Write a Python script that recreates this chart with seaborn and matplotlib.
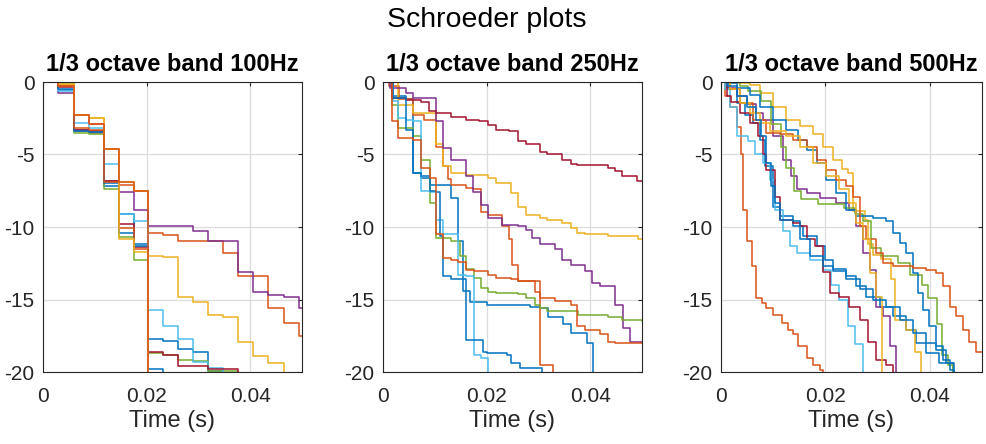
import numpy as np
import pandas as pd
import matplotlib
matplotlib.use("Agg")
import matplotlib.pyplot as plt
import seaborn as sns

# MATLAB default colour order
blue = "#0072BD"
orange = "#D95319"
yellow = "#EDB120"
purple = "#7E2F8E"
green = "#77AC30"
lightblue = "#4DBEEE"
darkred = "#A2142F"

# ---- 100 Hz band: all curves share the same step times (ms) ----
t100 = [0, 2.8, 5.9, 8.8, 11.7, 14.6, 17.5, 20.3, 23.2, 26.1, 29.0, 31.9,
        34.8, 37.7, 40.6, 43.5, 46.5, 49.5, 50.0]
b100_purple = [0, -0.76, -3.4, -3.5, -6.8, -7.6, -8.8, -9.9, -9.9, -9.95, -10.3,
               -11.0, -11.0, -13.1, -14.5, -14.7, -14.8, -15.6, -15.6]
b100_orange = [0, -0.3, -2.3, -2.9, -4.6, -7.1, -7.5, -10.4, -10.55, -11.0, -11.0,
               -11.0, -11.8, -13.4, -13.4, -15.6, -16.6, -17.5, -17.5]
b100_yellow = [0, -0.2, -2.3, -2.5, -4.6, -6.9, -7.5, -12.0, -12.05, -14.8, -15.2,
               -16.1, -16.2, -17.9, -18.9, -19.4, -25]
b100_lightblue = [0, -0.6, -2.8, -3.2, -5.65, -9.1, -9.6, -15.7, -16.8, -17.7, -19.3, -19.7, -25]
b100_blue = [0, -0.57, -3.3, -3.4, -7.2, -9.1, -11.2, -17.7, -17.85, -18.4, -18.6, -19.9, -25]
b100_green = [0, -0.1, -3.5, -3.6, -7.4, -10.7, -12.25, -18.7, -18.8, -19.2, -19.25, -19.9, -19.9, -25]
b100_darkred = [0, -0.35, -3.3, -3.4, -6.8, -9.8, -11.4, -18.6, -18.8, -19.6, -19.6, -19.8, -19.8, -25]
b100_blue2 = [0, -0.45, -3.35, -3.45, -7.0, -10.4, -11.3, -19.8, -25]
b100_orange2 = [0, -0.3, -3.2, -3.3, -6.9, -10.1, -11.5, -25]
b100_yellow2 = [0, -0.15, -2.3, -2.5, -4.6, -10.8, -11.7, -25]
b100_orange3 = [0, -0.25, -2.3, -2.9, -4.6, -6.9, -7.5, -25]

# ---- 250 Hz band (ms, dB) ----
t250_darkred = [0, 1.7, 4.5, 7.4, 8.9, 10.3, 13.2, 16.0, 18.6, 20.2, 21.8, 24.4, 26.0,
                27.6, 30.4, 31.7, 34.6, 36.2, 37.4, 43.5, 44.8, 46.1, 49.0, 50]
b250_darkred = [0, -1.1, -1.25, -1.4, -2.0, -2.15, -2.4, -2.6, -2.7, -3.0, -3.3, -3.4, -4.1,
                -4.3, -4.8, -5.0, -5.35, -5.65, -5.75, -5.9, -6.15, -6.45, -6.8, -6.8]
t250_yellow = [0, 2.9, 5.8, 10.3, 11.6, 13.2, 16.0, 20.2, 21.8, 24.7, 26.0, 27.6, 30.4,
               31.7, 34.6, 36.2, 37.4, 39.0, 43.5, 49.3, 50]
b250_yellow = [0, -1.6, -2.15, -4.3, -5.8, -6.3, -6.4, -6.6, -7.0, -7.65, -8.6, -9.2, -9.4,
               -9.55, -9.7, -10.1, -10.4, -10.5, -10.65, -10.8, -10.8]
t250_purple = [0, 1.3, 4.5, 5.8, 10.3, 11.6, 13.2, 16.0, 17.3, 18.9, 20.2, 23.0, 26.0, 27.6,
               28.8, 30.4, 33.3, 34.6, 36.2, 39.0, 40.3, 41.9, 44.8, 46.4, 47.7, 50]
b250_purple = [0, -0.4, -0.75, -1.1, -2.7, -4.55, -5.35, -6.5, -7.6, -8.45, -9.4, -9.85, -9.95,
               -10.2, -10.75, -11.2, -11.55, -12.25, -12.6, -13.05, -13.85, -14.1, -15.35,
               -16.95, -17.9, -18.0]
t250_orange = [0, 1.2, 3.0, 5.8, 8.0, 10.3, 11.6, 12.5, 13.2, 16.0, 17.3, 18.9, 20.2, 23.0,
               24.4, 25.0, 26.0, 30.4, 32.9]
b250_orange = [0, -0.3, -1.2, -2.3, -2.6, -4.5, -5.8, -6.7, -7.1, -7.3, -7.4, -9.0, -9.15,
               -9.9, -10.8, -12.6, -13.75, -19.5, -25]
t250_orange2 = [0, 1.7, 2.9, 5.8, 7.4, 9.0, 10.3, 11.6, 13.2, 14.4, 16.0, 17.6, 20.2, 21.8,
                24.7, 26.0, 29.4, 30.4, 33.3, 36.2, 37.4, 39.0, 41.9, 43.5, 44.8, 50]
b250_orange2 = [0, -2.7, -3.85, -4.0, -5.9, -6.6, -10.5, -12.15, -12.25, -12.4, -12.95, -13.05,
                -13.3, -13.5, -13.6, -13.75, -14.45, -14.9, -15.1, -15.35, -16.85, -17.1,
                -17.4, -17.9, -18.0, -18.0]
t250_green = [0, 1.7, 2.9, 5.8, 7.4, 9.0, 10.3, 13.2, 14.8, 16.1, 17.6, 18.9, 20.2, 21.8,
              26.0, 27.6, 29.4, 30.4, 31.7, 37.7, 43.5, 46.1, 50]
b250_green = [0, -1.56, -3.2, -3.75, -5.35, -8.35, -10.75, -11.0, -12.0, -12.9, -13.5, -14.2,
              -14.45, -14.55, -14.65, -14.9, -15.35, -15.6, -15.8, -16.1, -16.2, -16.4, -16.45]
t250_blue = [0, 1.7, 4.5, 5.8, 7.4, 9.0, 13.2, 14.4, 15.5, 16.8, 20.0, 28.4, 30.3, 31.9,
             34.8, 36.2, 39.4, 40.5]
b250_blue = [0, -1.0, -1.2, -6.3, -6.6, -7.1, -8.0, -10.95, -14.4, -15.2, -15.35, -15.5,
             -15.6, -16.2, -16.7, -17.3, -18.0, -25]
t250_blue2 = [0, 1.9, 4.5, 5.8, 7.4, 9.0, 10.3, 11.0, 11.6, 13.2, 16.1, 19.4, 20.0, 23.9,
              24.8, 26.5, 30.6]
b250_blue2 = [0, -1.1, -3.3, -6.3, -6.5, -7.5, -7.6, -10.65, -13.4, -13.6, -17.8, -18.6,
              -18.7, -18.8, -19.4, -19.7, -25]
t250_lightblue = [0, 1.9, 2.9, 4.5, 5.8, 7.4, 9.0, 10.3, 11.6, 14.4, 16.0, 17.6, 18.9, 20.2]
b250_lightblue = [0, -1.3, -2.5, -2.6, -2.7, -7.5, -7.6, -9.5, -10.5, -13.3, -13.4, -18.8,
                  -19.0, -25]

# ---- 500 Hz band (ms, dB) ----
t500_orange = [0, 0.8, 1.7, 3.0, 3.9, 4.3, 4.9, 5.9, 6.8, 7.8, 8.7, 10.0, 11.6, 12.9, 13.8,
               14.8, 16.4, 17.6, 18.9, 19.5]
b500_orange = [0, -1.0, -1.7, -3.1, -5.0, -8.8, -11.0, -12.7, -14.9, -15.25, -15.6, -16.05,
               -16.6, -17.1, -17.4, -18.2, -19.0, -19.5, -19.85, -25]
t500_lightblue = [0, 0.8, 1.7, 3.0, 5.2, 6.5, 8.1, 9.4, 10.3, 11.9, 13.2, 14.5, 17.0, 19.6,
                  21.1, 22.7, 24.3, 25.6, 27.2]
b500_lightblue = [0, -0.5, -1.7, -3.75, -4.1, -5.0, -5.6, -6.75, -8.8, -10.3, -11.3, -11.8,
                  -12.25, -12.95, -14.0, -15.0, -16.85, -18.1, -25]
t500_darkred = [0, 1.1, 2.0, 3.6, 5.5, 7.1, 8.1, 8.7, 10.3, 11.3, 13.8, 15.1, 16.4, 18.0,
                19.6, 20.8, 22.7, 24.6, 26.6, 28.2, 29.7, 31.7, 32.9]
b500_darkred = [0, -1.0, -1.35, -2.15, -2.8, -3.75, -5.0, -6.05, -7.9, -9.5, -9.7, -9.95,
                -10.85, -11.3, -13.1, -14.55, -14.8, -15.5, -16.4, -17.9, -19.15, -19.5, -25]
t500_blue = [0, 1.4, 3.0, 4.6, 6.2, 7.5, 8.4, 10.0, 11.3, 13.8, 15.7, 18.3, 19.9, 21.5, 24.0,
             25.9, 27.8, 30.4, 32.9, 35.5, 37.4, 39.3, 41.8, 44.4]
b500_blue = [0, -0.5, -1.45, -2.25, -2.8, -4.0, -5.8, -8.6, -9.25, -9.95, -10.6, -11.3, -12.25,
             -13.05, -13.4, -14.1, -14.8, -15.5, -16.15, -17.1, -18.0, -18.7, -19.4, -25]
t500_blue2 = [0, 1.1, 3.0, 5.5, 7.5, 10.0, 12.5, 14.8, 16.4, 18.3, 20.2, 22.1, 24.0, 25.9,
              29.1, 31.7, 32.9, 34.2, 35.5, 36.8, 37.7, 38.7, 39.9, 41.2, 42.5, 43.8, 44.6]
b500_blue2 = [0, -0.1, -0.4, -0.9, -1.7, -2.6, -3.3, -4.0, -4.7, -5.6, -6.75, -7.65, -8.8,
              -9.25, -9.4, -9.6, -10.4, -11.1, -11.8, -13.2, -14.55, -15.7, -16.85, -18.2,
              -19.15, -19.85, -25]
t500_blue3 = [0, 1.1, 3.0, 4.9, 6.8, 7.7, 8.7, 9.6, 10.3, 11.3, 13.8, 15.1, 17.0, 19.6, 21.5,
              24.0, 26.6, 29.1, 31.7, 34.2, 36.8, 39.3, 41.2, 43.1, 44.7]
b500_blue3 = [0, -0.3, -1.0, -1.7, -2.6, -3.75, -5.6, -7.2, -8.35, -9.5, -9.6, -10.85, -12.0,
              -12.7, -12.9, -13.6, -14.3, -15.0, -15.5, -16.4, -17.3, -18.0, -18.45, -19.4, -25]
t500_green = [0, 3.6, 5.1, 7.7, 9.6, 11.5, 12.4, 14.0, 15.3, 18.5, 23.6, 25.6, 27.2, 28.7,
              30.7, 33.9, 36.2, 38.6, 39.7, 41.3, 42.3, 43.5, 44.5]
b500_green = [0, -0.3, -0.6, -1.3, -2.9, -4.5, -5.9, -7.5, -8.1, -8.4, -8.7, -9.1, -9.6,
              -11.45, -12.0, -12.5, -13.3, -14.0, -14.9, -16.7, -18.8, -19.5, -25]
t500_purple = [0, 1.1, 3.0, 4.9, 6.8, 8.1, 10.0, 11.9, 13.5, 14.5, 16.4, 18.9, 22.1, 24.6,
               25.9, 27.2, 28.5, 29.7, 31.0, 32.3, 33.6]
b500_purple = [0, -0.4, -1.0, -1.55, -2.15, -2.6, -3.75, -5.35, -6.5, -7.4, -7.65, -8.0,
               -8.35, -8.8, -9.95, -11.8, -12.95, -15.5, -16.15, -18.2, -25]
t500_yellow = [0, 2.4, 5.5, 7.5, 10.0, 12.5, 15.1, 17.6, 19.6, 21.5, 23.1, 24.3, 25.3, 27.5,
               28.2, 29.1, 30.7, 32.6, 33.3, 35.5, 37.1, 38.4]
b500_yellow = [0, -0.05, -0.2, -0.75, -1.7, -2.6, -3.05, -3.6, -4.45, -5.35, -6.0, -6.3, -8.9,
               -9.5, -11.2, -11.9, -12.2, -13.6, -16.4, -17.1, -18.6, -25]
t500_yellow2 = [0, 1.7, 3.6, 5.5, 7.5, 9.4, 12.5, 15.1, 17.6, 20.2, 22.7, 24.6, 25.9, 27.2,
                28.5, 29.7, 30.8]
b500_yellow2 = [0, -0.5, -1.45, -2.15, -2.8, -3.4, -3.75, -4.45, -5.6, -6.5, -7.4, -8.35, -9.7,
                -10.8, -13.2, -14.8, -25]
t500_orange2 = [0, 1.7, 3.6, 6.2, 8.7, 11.3, 13.8, 16.4, 18.3, 20.2, 22.1, 24.0, 25.3, 26.6,
                27.8, 29.7, 31.0, 32.9, 36.8, 39.3, 41.2, 42.5, 43.8, 45.0, 46.3, 47.6, 48.9, 50.0]
b500_orange2 = [0, -0.5, -1.45, -2.6, -3.5, -3.6, -4.0, -4.45, -5.35, -6.05, -6.75, -7.2, -7.9,
                -9.95, -10.85, -11.8, -12.5, -12.7, -12.8, -12.95, -13.2, -14.1, -15.5, -16.15,
                -17.1, -17.9, -18.6, -18.6]

bands = [
    ("1/3 octave band 100Hz", [
        (t100, b100_blue, blue), (t100, b100_orange, orange), (t100, b100_yellow, yellow),
        (t100, b100_purple, purple), (t100, b100_green, green),
        (t100, b100_lightblue, lightblue), (t100, b100_darkred, darkred),
        (t100, b100_blue2, blue), (t100, b100_orange2, orange), (t100, b100_yellow2, yellow),
        (t100, b100_orange3, orange)]),
    ("1/3 octave band 250Hz", [
        (t250_blue, b250_blue, blue), (t250_orange, b250_orange, orange),
        (t250_yellow, b250_yellow, yellow), (t250_purple, b250_purple, purple),
        (t250_green, b250_green, green), (t250_lightblue, b250_lightblue, lightblue),
        (t250_darkred, b250_darkred, darkred), (t250_blue2, b250_blue2, blue),
        (t250_orange2, b250_orange2, orange)]),
    ("1/3 octave band 500Hz", [
        (t500_blue, b500_blue, blue), (t500_orange, b500_orange, orange),
        (t500_yellow, b500_yellow, yellow), (t500_purple, b500_purple, purple),
        (t500_green, b500_green, green), (t500_lightblue, b500_lightblue, lightblue),
        (t500_darkred, b500_darkred, darkred), (t500_blue2, b500_blue2, blue),
        (t500_orange2, b500_orange2, orange), (t500_yellow2, b500_yellow2, yellow),
        (t500_blue3, b500_blue3, blue)]),
]

sns.set_style("white")
plt.rcParams["font.family"] = ["Liberation Sans", "DejaVu Sans"]
ink = "#262626"

fig = plt.figure(figsize=(9.87, 4.44), dpi=100)
W, H = 987, 444
lefts = [43, 383, 721]
widths = [259, 259, 261]

for k, (title, curves) in enumerate(bands):
    ax = fig.add_axes([lefts[k] / W, 72 / H, widths[k] / W, 290 / H])
    frames = []
    for i, (t, db, c) in enumerate(curves):
        n = len(db)
        frames.append(pd.DataFrame({"t": np.array(t[:n]) / 1000.0, "db": db, "curve": f"c{i}"}))
    df = pd.concat(frames, ignore_index=True)
    names = [f"c{i}" for i in range(len(curves))]
    sns.lineplot(data=df, x="t", y="db", hue="curve", hue_order=names,
                 palette=[c for _, _, c in curves], estimator=None, sort=False,
                 legend=False, drawstyle="steps-post", linewidth=1.1, ax=ax)

    ax.set_xlim(0, 0.05)
    ax.set_ylim(-20, 0)
    ax.set_xticks([0, 0.02, 0.04])
    ax.set_xticklabels(["0", "0.02", "0.04"])
    ax.set_yticks([-20, -15, -10, -5, 0])
    ax.set_yticklabels(["-20", "-15", "-10", "-5", "0"])
    ax.grid(True, color="#dcdcdc", linewidth=0.9)
    ax.set_axisbelow(True)
    for s in ax.spines.values():
        s.set_color(ink)
        s.set_linewidth(0.8)
    ax.tick_params(direction="in", length=3, width=0.8, color=ink, labelcolor=ink,
                   labelsize=15, top=True, right=True)
    ax.tick_params(axis="x", pad=11)
    ax.tick_params(axis="y", pad=6)
    ax.set_xlabel("Time (s)", fontsize=17, color=ink, labelpad=3)
    ax.set_ylabel("")
    ax.set_title(title, fontsize=17, fontweight="bold", color="black", pad=8)

fig.text(0.493, 1 - 27 / H, "Schroeder plots", ha="center", va="baseline",
         fontsize=20.5, color="black")

fig.savefig("out.png", dpi=100)
